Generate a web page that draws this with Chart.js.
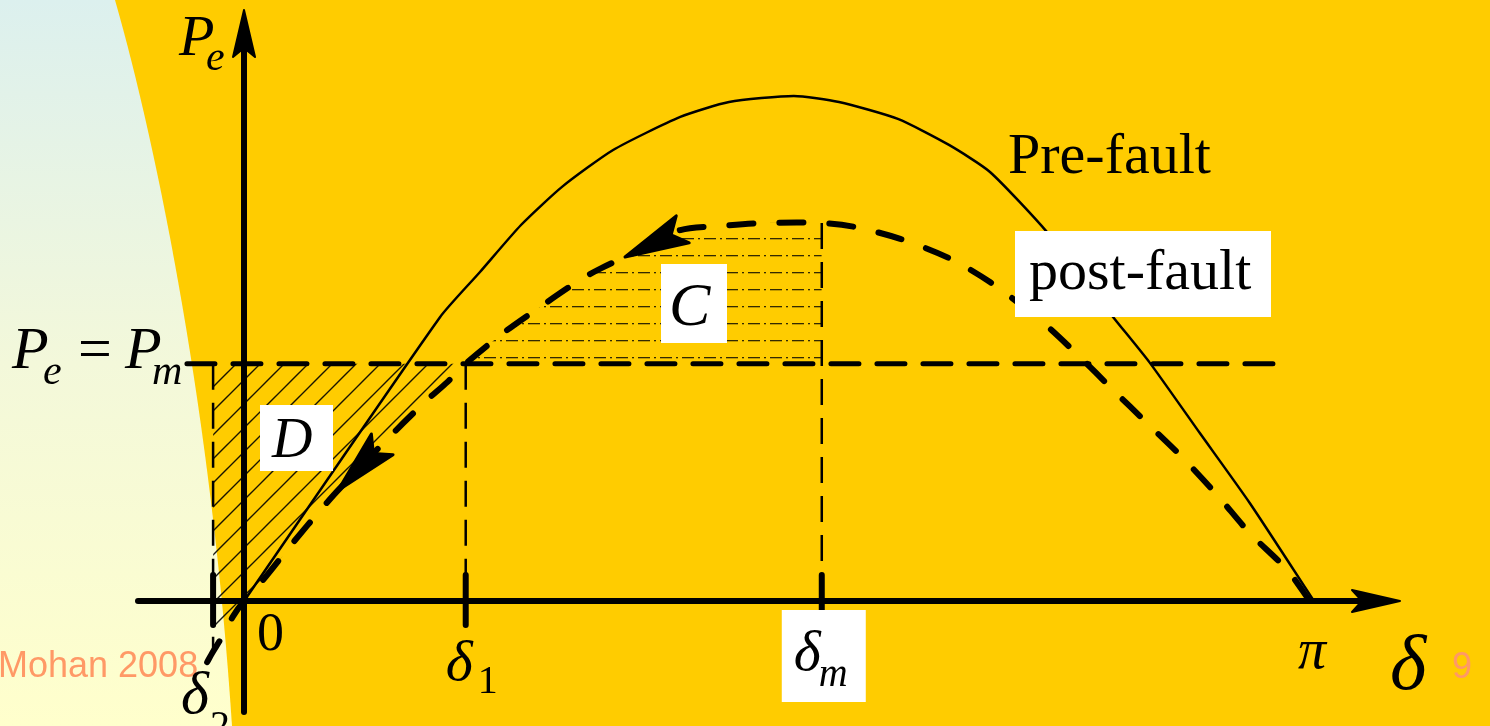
<!DOCTYPE html>
<html>
<head>
<meta charset="utf-8">
<script src="https://cdn.jsdelivr.net/npm/chart.js@4.4.0/dist/chart.umd.min.js"></script>
<style>
  html, body { margin: 0; padding: 0; background: #ffcc00; overflow: hidden; }
  #wrap { width: 1490px; height: 726px; position: relative; }
</style>
</head>
<body>
<div id="wrap"><canvas id="powerAngle"></canvas></div>
<script>
// rotor angle delta in degrees, electrical power in per unit
const preFaultDelta = [0, 33.0, 39.7, 46.6, 53.5, 62.1, 73.4, 81.6, 92.5, 100.1, 110.0, 118.6, 125.5, 135.1, 146.2, 152.4, 160.8, 169.2, 180];
const preFaultPe = [0, 1.125, 1.303, 1.489, 1.640, 1.786, 1.917, 1.976, 2.0, 1.976, 1.909, 1.806, 1.699, 1.461, 1.125, 0.943, 0.665, 0.388, 0];

const postFaultDelta = [-6.2, -5.2, -4.0, -1.9, 0, 3.2, 8.2, 13.3, 16.2, 25.1, 30.8, 34.2, 37.3, 43.6, 49.8, 56.5, 60.2, 66.6, 73.4, 80.1, 87.8, 97.2, 102.8, 110.4, 118.6, 125.5, 133.9, 140.3, 146.2, 151.9, 157.8, 163.7, 169.2, 175.5, 179.3];
const postFaultPe = [-0.242, -0.2, -0.154, -0.063, 0, 0.083, 0.230, 0.372, 0.448, 0.665, 0.796, 0.867, 0.94, 1.061, 1.164, 1.271, 1.319, 1.390, 1.469, 1.485, 1.497, 1.497, 1.481, 1.434, 1.358, 1.263, 1.113, 0.974, 0.836, 0.705, 0.570, 0.420, 0.269, 0.123, 0];

const Pm = 0.94;
const delta2 = -5.2;
const delta1 = 37.3;
const deltaM = 97.2;
const pmLineRange = [-9.6, 173.8];
const arrowDelta = [64.1, 15.8];

const pts = (xs, ys) => xs.map((x, i) => ({ x: x, y: ys[i] }));
const postPts = pts(postFaultDelta, postFaultPe);

function postAt(d) {
  for (let i = 1; i < postFaultDelta.length; i++) {
    if (d <= postFaultDelta[i]) {
      const a = postFaultDelta[i - 1], b = postFaultDelta[i];
      const t = (d - a) / (b - a);
      return postFaultPe[i - 1] + t * (postFaultPe[i] - postFaultPe[i - 1]);
    }
  }
  return postFaultPe[postFaultPe.length - 1];
}

// fill patterns for the two areas
function hatchPattern() {
  const c = document.createElement('canvas');
  c.width = 24; c.height = 24;
  const g = c.getContext('2d');
  g.strokeStyle = 'rgba(0,0,0,0.9)';
  g.lineWidth = 1.4;
  g.beginPath();
  g.moveTo(0, 24); g.lineTo(24, 0);
  g.moveTo(-2, 2); g.lineTo(2, -2);
  g.moveTo(22, 26); g.lineTo(26, 22);
  g.stroke();
  return g.createPattern(c, 'repeat');
}
function dashDotPattern() {
  const c = document.createElement('canvas');
  c.width = 22; c.height = 17;
  const g = c.getContext('2d');
  g.fillStyle = 'rgba(0,0,0,0.8)';
  g.fillRect(0, 0, 12, 1.3);
  g.fillRect(16, 0, 2, 1.3);
  return g.createPattern(c, 'repeat');
}

const backdrop = {
  id: 'backdrop',
  beforeDraw(chart) {
    const ctx = chart.ctx, w = chart.width, h = chart.height;
    ctx.save();
    ctx.fillStyle = '#ffcc00';
    ctx.fillRect(0, 0, w, h);
    const g = ctx.createLinearGradient(0, 0, 0, h);
    g.addColorStop(0, '#dcf0ee');
    g.addColorStop(0.5, '#f3f8da');
    g.addColorStop(1, '#ffffcc');
    ctx.fillStyle = g;
    ctx.beginPath();
    ctx.moveTo(0, 0);
    ctx.lineTo(115, 0);
    ctx.bezierCurveTo(158, 150, 212, 420, 232, h);
    ctx.lineTo(0, h);
    ctx.closePath();
    ctx.fill();
    ctx.restore();
  }
};

const axesAndArrows = {
  id: 'axesAndArrows',
  afterDatasetsDraw(chart) {
    const ctx = chart.ctx;
    const xs = chart.scales.x, ys = chart.scales.y;
    const x0 = xs.getPixelForValue(0), y0 = ys.getPixelForValue(0);
    ctx.save();
    ctx.strokeStyle = '#000';
    ctx.fillStyle = '#000';
    ctx.lineWidth = 6;
    ctx.lineCap = 'round';
    ctx.lineJoin = 'round';
    // delta axis
    ctx.beginPath(); ctx.moveTo(138, y0); ctx.lineTo(1360, y0); ctx.stroke();
    ctx.beginPath();
    ctx.moveTo(1400, y0); ctx.lineTo(1352, y0 - 11); ctx.lineTo(1362, y0); ctx.lineTo(1352, y0 + 11);
    ctx.closePath(); ctx.fill();
    ctx.lineWidth = 2; ctx.stroke();
    // power axis
    ctx.lineWidth = 6;
    ctx.beginPath(); ctx.moveTo(x0, 712); ctx.lineTo(x0, 50); ctx.stroke();
    ctx.beginPath();
    ctx.moveTo(x0, 10); ctx.lineTo(x0 - 11, 57); ctx.lineTo(x0, 48); ctx.lineTo(x0 + 11, 57);
    ctx.closePath(); ctx.fill();
    ctx.lineWidth = 2; ctx.stroke();

    // swing direction arrows on the post-fault curve
    arrowDelta.forEach(d => {
      const tx = xs.getPixelForValue(d), ty = ys.getPixelForValue(postAt(d));
      const bx = xs.getPixelForValue(d + 4), by = ys.getPixelForValue(postAt(d + 4));
      let ux = bx - tx, uy = by - ty;
      const len = Math.hypot(ux, uy); ux /= len; uy /= len;
      const L = 64, hw = 15;
      const cx = tx + ux * L, cy = ty + uy * L;
      const nx = tx + ux * L * 0.8, ny = ty + uy * L * 0.8;
      ctx.beginPath();
      ctx.moveTo(tx, ty);
      ctx.lineTo(cx - uy * hw, cy + ux * hw);
      ctx.lineTo(nx, ny);
      ctx.lineTo(cx + uy * hw, cy - ux * hw);
      ctx.closePath();
      ctx.fill();
      ctx.lineWidth = 3; ctx.stroke();
    });
    ctx.restore();
  }
};

const labels = {
  id: 'labels',
  afterDraw(chart) {
    const ctx = chart.ctx;
    const xs = chart.scales.x, ys = chart.scales.y;
    const serif = '"Liberation Serif", "Times New Roman", serif';
    const sans = '"Liberation Sans", Arial, sans-serif';
    const text = (s, x, y, font, color) => {
      ctx.font = font; ctx.fillStyle = color || '#000'; ctx.fillText(s, x, y);
    };
    const box = (x, y, w, h) => { ctx.fillStyle = '#fff'; ctx.fillRect(x, y, w, h); };
    ctx.save();
    ctx.textBaseline = 'alphabetic';
    ctx.textAlign = 'left';

    // watermark and page number
    text('Mohan 2008', -2, 677, '36px ' + sans, '#ff9966');
    text('9', 1452, 678, '36px ' + sans, '#ff9966');

    // axis titles
    text('P', 179, 55, 'italic 58px ' + serif);
    text('e', 206, 70, 'italic 42px ' + serif);
    text('\u03b4', 1390, 689, 'italic 78px ' + serif);

    // Pe = Pm
    const yPm = ys.getPixelForValue(Pm);
    text('P', 12, yPm + 4, 'italic 60px ' + serif);
    text('e', 43, yPm + 20, 'italic 42px ' + serif);
    text('=', 78, yPm + 4, '60px ' + serif);
    text('P', 125, yPm + 4, 'italic 60px ' + serif);
    text('m', 152, yPm + 20, 'italic 42px ' + serif);

    // tick labels
    const y0 = ys.getPixelForValue(0);
    text('0', xs.getPixelForValue(0) + 13, y0 + 49, '54px ' + serif);
    const x1 = xs.getPixelForValue(delta1);
    text('\u03b4', x1 - 20, y0 + 79, 'italic 58px ' + serif);
    text('1', x1 + 12, y0 + 92, '40px ' + serif);
    const x2 = xs.getPixelForValue(delta2);
    text('\u03b4', x2 - 32, y0 + 112, 'italic 60px ' + serif);
    text('2', x2 - 3, y0 + 137, '40px ' + serif);
    const xm = xs.getPixelForValue(deltaM);
    box(xm - 40, y0 + 9, 84, 92);
    text('\u03b4', xm - 28, y0 + 69, 'italic 58px ' + serif);
    text('m', xm - 3, y0 + 85, 'italic 40px ' + serif);
    text('\u03c0', xs.getPixelForValue(180) - 16, y0 + 67, 'italic 56px ' + serif);

    // curve names
    text('Pre-fault', 1008, 173, '58px ' + serif);
    box(1015, 231, 256, 86);
    text('post-fault', 1029, 289, '58px ' + serif);

    // area names
    box(661, 264, 66, 79);
    text('C', 669, 325, 'italic 62px ' + serif);
    box(260, 405, 73, 66);
    text('D', 272, 457, 'italic 56px ' + serif);
    ctx.restore();
  }
};

const seg = (x1, y1, x2, y2) => [{ x: x1, y: y1 }, { x: x2, y: y2 }];
const thin = { borderColor: '#000', pointRadius: 0, fill: false };
const tickLen = [0.103, -0.095];

new Chart(document.getElementById('powerAngle'), {
  type: 'line',
  data: {
    datasets: [
      { label: 'post-fault', data: postPts, borderColor: '#000', borderWidth: 6, borderDash: [24, 26],
        borderCapStyle: 'round', tension: 0.3, pointRadius: 0, fill: false },
      { label: 'Pre-fault', data: pts(preFaultDelta, preFaultPe), borderColor: '#000', borderWidth: 2.5,
        tension: 0.2, pointRadius: 0, fill: false },
      ...[delta2, delta1, deltaM].map(d => Object.assign({ data: seg(d, tickLen[0], d, tickLen[1]), borderWidth: 6, borderCapStyle: 'round' }, thin)),
      Object.assign({ data: seg(delta2, Pm, delta2, -0.19), borderWidth: 2.5, borderDash: [26, 13] }, thin),
      Object.assign({ data: seg(delta1, Pm, delta1, 0), borderWidth: 2.5, borderDash: [26, 13] }, thin),
      Object.assign({ data: seg(deltaM, postAt(deltaM), deltaM, 0), borderWidth: 2.5, borderDash: [26, 13] }, thin),
      Object.assign({ data: seg(pmLineRange[0], Pm, pmLineRange[1], Pm), borderWidth: 5, borderDash: [28, 18], borderCapStyle: 'round' }, thin),
      { label: 'C', data: postPts.filter(p => p.x >= delta1 && p.x <= deltaM), tension: 0.3, pointRadius: 0,
        borderWidth: 0, borderColor: 'rgba(0,0,0,0)', backgroundColor: dashDotPattern(), fill: { value: Pm } },
      { label: 'D', data: postPts.filter(p => p.x >= delta2 && p.x <= delta1), tension: 0.3, pointRadius: 0,
        borderWidth: 0, borderColor: 'rgba(0,0,0,0)', backgroundColor: hatchPattern(), fill: { value: Pm } }
    ]
  },
  options: {
    responsive: true,
    maintainAspectRatio: false,
    animation: false,
    events: [],
    layout: { padding: 0 },
    plugins: { legend: { display: false }, tooltip: { enabled: false } },
    scales: {
      x: { type: 'linear', display: false, min: -41.05, max: 209.62 },
      y: { type: 'linear', display: false, min: -0.495, max: 2.380 }
    }
  },
  plugins: [backdrop, axesAndArrows, labels]
});
</script>
</body>
</html>
